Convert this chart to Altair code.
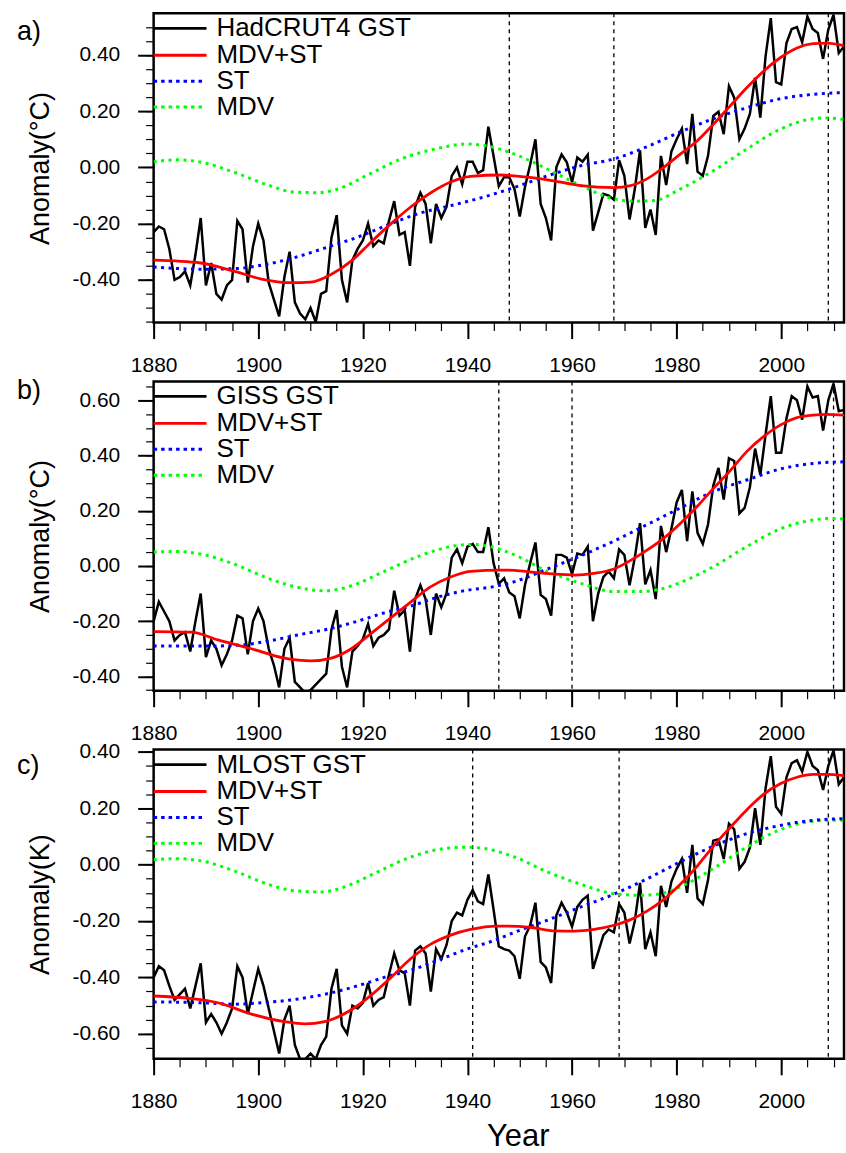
import altair as alt
import pandas as pd
import numpy as np

FONT = "Liberation Sans"

YEARS = list(range(1880, 2013))

HADCRUT4 = [
    -0.23, -0.21, -0.22, -0.29, -0.40, -0.39, -0.37, -0.42, -0.31, -0.18,
    -0.42, -0.34, -0.45, -0.47, -0.42, -0.40, -0.19, -0.22, -0.41, -0.28,
    -0.20, -0.26, -0.41, -0.47, -0.53, -0.39, -0.30, -0.48, -0.52, -0.54,
    -0.50, -0.55, -0.45, -0.44, -0.25, -0.17, -0.40, -0.48, -0.33, -0.29,
    -0.26, -0.20, -0.28, -0.26, -0.27, -0.19, -0.12, -0.24, -0.23, -0.35,
    -0.14, -0.09, -0.13, -0.27, -0.13, -0.18, -0.14, -0.03, 0.00, -0.06,
    0.02, 0.02, -0.02, -0.01, 0.145, 0.04, -0.067, -0.035, -0.035, -0.077,
    -0.175, -0.07, 0.01, 0.10, -0.13, -0.18, -0.26, 0.00, 0.046, 0.018,
    -0.053, 0.035, 0.02, 0.045, -0.225, -0.16, -0.094, -0.10, -0.115, 0.026,
    -0.03, -0.185, -0.077, 0.061, -0.215, -0.15, -0.24, 0.041, -0.063, 0.057,
    0.10, 0.138, 0.012, 0.19, -0.015, -0.03, 0.041, 0.183, 0.198, 0.118,
    0.289, 0.248, 0.10, 0.138, 0.19, 0.319, 0.177, 0.395, 0.531, 0.303,
    0.295, 0.442, 0.492, 0.499, 0.445, 0.537, 0.492, 0.478, 0.386, 0.49,
    0.543, 0.407, 0.43,
]

GISS = [
    -0.20, -0.13, -0.165, -0.20, -0.27, -0.25, -0.24, -0.31, -0.20, -0.10,
    -0.33, -0.27, -0.30, -0.36, -0.32, -0.27, -0.18, -0.19, -0.32, -0.20,
    -0.154, -0.20, -0.30, -0.36, -0.44, -0.30, -0.26, -0.42, -0.44, -0.46,
    -0.45, -0.43, -0.41, -0.39, -0.23, -0.16, -0.365, -0.44, -0.31, -0.29,
    -0.265, -0.21, -0.29, -0.26, -0.25, -0.23, -0.09, -0.18, -0.16, -0.31,
    -0.12, -0.07, -0.12, -0.25, -0.10, -0.15, -0.10, 0.03, 0.06, 0.01,
    0.07, 0.08, 0.05, 0.05, 0.14, 0.01, -0.065, -0.045, -0.096, -0.11,
    -0.19, -0.07, 0.01, 0.085, -0.105, -0.12, -0.18, 0.04, 0.04, 0.03,
    -0.03, 0.045, 0.04, 0.07, -0.20, -0.10, -0.04, -0.02, -0.045, 0.06,
    0.04, -0.07, 0.03, 0.155, -0.067, -0.015, -0.12, 0.145, 0.05, 0.135,
    0.23, 0.275, 0.09, 0.27, 0.12, 0.08, 0.15, 0.29, 0.355, 0.24,
    0.39, 0.38, 0.19, 0.21, 0.285, 0.425, 0.33, 0.475, 0.615, 0.41,
    0.41, 0.535, 0.615, 0.60, 0.53, 0.65, 0.61, 0.615, 0.49, 0.60,
    0.66, 0.56, 0.565,
]

MLOST = [
    -0.40, -0.36, -0.375, -0.43, -0.48, -0.46, -0.44, -0.51, -0.43, -0.35,
    -0.56, -0.53, -0.56, -0.60, -0.56, -0.51, -0.36, -0.40, -0.53, -0.45,
    -0.37, -0.43, -0.51, -0.59, -0.67, -0.55, -0.50, -0.64, -0.69, -0.69,
    -0.67, -0.69, -0.64, -0.61, -0.44, -0.37, -0.57, -0.60, -0.50, -0.51,
    -0.49, -0.42, -0.50, -0.48, -0.47, -0.39, -0.315, -0.375, -0.385, -0.50,
    -0.305, -0.29, -0.315, -0.45, -0.30, -0.335, -0.285, -0.20, -0.17, -0.18,
    -0.125, -0.09, -0.13, -0.14, -0.035, -0.16, -0.29, -0.30, -0.305, -0.325,
    -0.405, -0.255, -0.215, -0.135, -0.345, -0.365, -0.42, -0.18, -0.135, -0.17,
    -0.22, -0.15, -0.125, -0.11, -0.37, -0.31, -0.25, -0.23, -0.24, -0.14,
    -0.17, -0.28, -0.20, -0.065, -0.30, -0.24, -0.325, -0.075, -0.15, -0.06,
    -0.015, 0.02, -0.10, 0.07, -0.12, -0.14, -0.055, 0.085, 0.09, 0.02,
    0.145, 0.125, -0.015, 0.01, 0.06, 0.20, 0.07, 0.27, 0.385, 0.205,
    0.18, 0.31, 0.36, 0.37, 0.33, 0.40, 0.35, 0.335, 0.265, 0.35,
    0.405, 0.285, 0.31,
]

# ---------------- fitted curves ----------------
A_FIT_X = [1880, 1889, 1895.5, 1900.6, 1906.3, 1910, 1914, 1918, 1921.6, 1925.4, 1929.2,
           1933, 1936.8, 1940.6, 1946.4, 1949, 1955.3, 1961.7, 1968, 1971.2, 1974.4,
           1977.5, 1980.7, 1983.9, 1987, 1990.2, 1993.4, 1996.6, 1999.8, 2003, 2006.1,
           2008.7, 2012]
A_FIT_Y = [-0.330, -0.340, -0.370, -0.397, -0.410, -0.408, -0.380, -0.330, -0.265, -0.200,
           -0.140, -0.090, -0.052, -0.032, -0.027, -0.030, -0.044, -0.065, -0.072, -0.065,
           -0.040, 0.000, 0.047, 0.094, 0.153, 0.218, 0.283, 0.342, 0.390, 0.425, 0.440,
           0.442, 0.433]
A_ST_X = [1880, 1889.2, 1895.5, 1900.6, 1906.3, 1912.7, 1919, 1925.4, 1930.5, 1936.8,
          1943.2, 1949, 1955.3, 1961.7, 1968, 1974.4, 1980.7, 1987, 1993.4, 1999.8,
          2006.1, 2012]
A_ST_Y = [-0.354, -0.362, -0.360, -0.348, -0.324, -0.287, -0.248, -0.200, -0.165, -0.136,
          -0.105, -0.071, -0.030, 0.006, 0.030, 0.074, 0.126, 0.173, 0.212, 0.244,
          0.260, 0.266]
A_MDV_X = [1880, 1884.7, 1889.2, 1895.5, 1901.9, 1907, 1911.4, 1915.2, 1920.9, 1927.3,
           1933.7, 1940, 1943.2, 1949, 1955.3, 1961.7, 1968, 1971.9, 1975.7, 1980.7,
           1987, 1993.4, 1999.8, 2006.1, 2008.7, 2012]
A_MDV_Y = [0.020, 0.027, 0.018, -0.018, -0.063, -0.088, -0.090, -0.077, -0.027, 0.030,
           0.065, 0.083, 0.078, 0.047, -0.006, -0.065, -0.112, -0.120, -0.118, -0.077,
           -0.012, 0.065, 0.136, 0.173, 0.176, 0.171]

B_FIT_X = [1880, 1887.2, 1892.3, 1898.7, 1905, 1910.1, 1914, 1917.8, 1921.6, 1925.4,
           1929.2, 1933, 1936.8, 1940.6, 1946.4, 1949, 1952.8, 1956.7, 1960.5, 1964.2,
           1968, 1971.2, 1974.4, 1977.5, 1980.7, 1983.9, 1987, 1990.2, 1993.4, 1996.6,
           1999.8, 2003, 2006.1, 2008.7, 2012]
B_FIT_Y = [-0.238, -0.240, -0.268, -0.300, -0.334, -0.344, -0.334, -0.300, -0.244, -0.187,
           -0.130, -0.075, -0.040, -0.020, -0.015, -0.016, -0.023, -0.030, -0.033, -0.027,
           -0.011, 0.020, 0.058, 0.100, 0.154, 0.215, 0.280, 0.344, 0.414, 0.468,
           0.510, 0.537, 0.546, 0.549, 0.546]
B_ST_X = [1880, 1891, 1897.4, 1902.5, 1907.6, 1914, 1919, 1924.1, 1929.2, 1934.3,
          1939.4, 1945, 1949, 1955.3, 1961.7, 1968, 1974.4, 1980.7, 1987, 1993.4,
          1999.8, 2006.1, 2012]
B_ST_Y = [-0.290, -0.290, -0.285, -0.270, -0.250, -0.226, -0.200, -0.170, -0.145, -0.113,
          -0.090, -0.075, -0.057, -0.011, 0.037, 0.090, 0.150, 0.210, 0.269, 0.311,
          0.351, 0.371, 0.377]
B_MDV_X = [1880, 1884.7, 1889.2, 1895.5, 1901.9, 1907, 1912.7, 1917.8, 1924.1, 1930.5,
           1936.8, 1940.6, 1943.2, 1949, 1955.3, 1961.7, 1968, 1973.1, 1976.9, 1982,
           1987, 1993.4, 1999.8, 2006.1, 2008.7, 2012]
B_MDV_Y = [0.050, 0.052, 0.042, 0.006, -0.045, -0.075, -0.090, -0.072, -0.020, 0.034,
           0.070, 0.078, 0.074, 0.040, -0.020, -0.063, -0.093, -0.093, -0.084, -0.050,
           -0.003, 0.070, 0.134, 0.166, 0.172, 0.170]

C_FIT_X = [1880, 1887.2, 1892.3, 1898.7, 1905, 1908.9, 1912.7, 1917.8, 1921.6, 1925.4,
           1929.2, 1933, 1936.8, 1940.6, 1945.7, 1947.7, 1952.2, 1956.7, 1960.5, 1964.2,
           1968, 1971.2, 1974.4, 1977.5, 1980.7, 1983.9, 1987, 1990.2, 1993.4, 1996.6,
           1999.8, 2003, 2006.1, 2008.7, 2012]
C_FIT_Y = [-0.466, -0.475, -0.490, -0.530, -0.557, -0.565, -0.557, -0.515, -0.463, -0.400,
           -0.333, -0.282, -0.250, -0.230, -0.218, -0.218, -0.223, -0.235, -0.236, -0.230,
           -0.215, -0.195, -0.164, -0.124, -0.070, -0.006, 0.065, 0.131, 0.194, 0.249,
           0.287, 0.310, 0.320, 0.320, 0.316]
C_ST_X = [1880, 1889.2, 1895.5, 1900.6, 1906.3, 1912.7, 1919, 1924.1, 1929.2, 1934.3,
          1939.4, 1945.7, 1949, 1955.3, 1961.7, 1968, 1974.4, 1980.7, 1987, 1993.4,
          1999.8, 2006.1, 2012]
C_ST_Y = [-0.487, -0.490, -0.495, -0.490, -0.480, -0.460, -0.430, -0.400, -0.374, -0.340,
          -0.303, -0.265, -0.240, -0.197, -0.150, -0.105, -0.050, 0.010, 0.065, 0.110,
          0.139, 0.157, 0.163]
C_MDV_X = [1880, 1884.7, 1889.2, 1895.5, 1901.9, 1907, 1912.1, 1916.5, 1922.8, 1929.2,
           1935.6, 1940, 1943.2, 1949, 1955.3, 1961.7, 1968, 1973.1, 1976.9, 1982,
           1987, 1993.4, 1999.8, 2006.1, 2008.7, 2012]
C_MDV_Y = [0.018, 0.021, 0.013, -0.023, -0.070, -0.093, -0.097, -0.079, -0.026, 0.027,
           0.057, 0.062, 0.057, 0.027, -0.026, -0.070, -0.103, -0.109, -0.103, -0.067,
           -0.014, 0.062, 0.124, 0.154, 0.157, 0.157]

# dashed vertical marker years
A_VLINES = [1948, 1968, 2009]
B_VLINES = [1946, 1960, 2010]
C_VLINES = [1941, 1969, 2009]

LEGEND_LABELS = ["MDV+ST", "ST", "MDV"]
X_MAJOR = [1880, 1900, 1920, 1940, 1960, 1980, 2000]
X_MINOR = list(range(1880, 2013, 5))

W, H = 692, 310
LEG_ROWS = [15, 42, 68, 94]


def minus_fix(fmt):
    return "replace(format(datum.value, '%s'), '\u2212', '-')" % fmt


def panel(tag, tag_y, obs_name, obs, fits, vlines, ydom, ymajor, ytitle, show_year):
    xs = alt.Scale(domain=[1880, 2012], nice=False, zero=False)
    ys = alt.Scale(domain=ydom, nice=False, zero=False)
    obs_df = pd.DataFrame({"year": YEARS, "value": obs})

    x_major_kw = dict(
        values=X_MAJOR, format="d", tickSize=16, tickWidth=2, tickColor="black",
        labelFont=FONT, labelFontSize=21, labelColor="black", labelPadding=27,
        labelBaseline="middle", labelFlush=False, labelOverlap=False,
        domain=False, grid=False, orient="bottom",
    )
    if show_year:
        x_major_kw.update(title="Year", titleFont=FONT, titleFontSize=31,
                          titleFontWeight="normal", titleColor="black",
                          titleX=365, titleY=78, titleBaseline="middle",
                          titleAlign="center")
    else:
        x_major_kw.update(title=None)
    x_major = alt.Axis(**x_major_kw)
    x_minor = alt.Axis(values=X_MINOR, tickSize=8, tickWidth=1.2, tickColor="black",
                       labels=False, domain=False, grid=False, orient="bottom", title=None)

    y_major = alt.Axis(
        values=ymajor, labelExpr=minus_fix(".2f"), tickSize=16, tickWidth=2,
        tickColor="black", labelFont=FONT, labelFontSize=21, labelColor="black",
        labelPadding=18, labelFlush=False, labelOverlap=False, domain=False, grid=False,
        orient="left", title=ytitle, titleFont=FONT, titleFontSize=27,
        titleFontWeight="normal", titleColor="black", titleAngle=270,
        titleX=-113, titleY=H / 2, titleBaseline="middle", titleAlign="center",
    )
    yminor_vals = [round(v, 2) for v in np.arange(-0.80, 0.80, 0.05)
                   if ydom[0] - 1e-6 <= round(v, 2) <= ydom[1] + 1e-6]
    y_minor = alt.Axis(values=yminor_vals, tickSize=8, tickWidth=1.2, tickColor="black",
                       labels=False, domain=False, grid=False, orient="left", title=None)

    carrier = alt.Chart(obs_df).mark_line(strokeOpacity=0).encode(
        x=alt.X("year:Q", scale=xs, axis=x_minor),
        y=alt.Y("value:Q", scale=ys, axis=y_minor),
    )
    vl = alt.Chart(pd.DataFrame({"year": vlines})).mark_rule(
        color="black", strokeWidth=1.3, strokeDash=[4, 4]
    ).encode(x=alt.X("year:Q", scale=xs, axis=None))

    obs_line = alt.Chart(obs_df).mark_line(color="black", strokeWidth=2.5, clip=True).encode(
        x=alt.X("year:Q", scale=xs, axis=x_major),
        y=alt.Y("value:Q", scale=ys, axis=y_major),
    )

    layers = [vl, carrier, obs_line]
    (fx, fy), (sx, sy), (mx, my) = fits
    styles = [
        (mx, my, "#00ff00", [3, 4.5], 3),
        (sx, sy, "#0000ff", [3, 4.5], 3),
        (fx, fy, "#ff0000", None, 2.8),
    ]
    for xv, yv, col, dash, sw in styles:
        kw = dict(color=col, strokeWidth=sw, interpolate="monotone", clip=True)
        if dash:
            kw.update(strokeDash=dash, strokeCap="butt")
        layers.append(
            alt.Chart(pd.DataFrame({"year": xv, "value": yv})).mark_line(**kw).encode(
                x=alt.X("year:Q", scale=xs, axis=None),
                y=alt.Y("value:Q", scale=ys, axis=None),
            )
        )

    # legend (top-left inside the plot)
    one = pd.DataFrame({"k": [0]})
    leg = [
        (obs_name + " GST", "black", None, 2.8, 53),
        (LEGEND_LABELS[0], "#ff0000", None, 2.8, 53),
        (LEGEND_LABELS[1], "#0000ff", [3.5, 4], 3, 50),
        (LEGEND_LABELS[2], "#00ff00", [3.5, 4], 3, 50),
    ]
    for (lab, col, dash, sw, ln), ry in zip(leg, LEG_ROWS):
        kw = dict(color=col, strokeWidth=sw)
        if dash:
            kw.update(strokeDash=dash, strokeCap="butt")
        layers.append(alt.Chart(one).mark_rule(**kw).encode(
            x=alt.value(0), x2=alt.value(ln), y=alt.value(ry)))
        layers.append(alt.Chart(one).mark_text(
            text=lab, align="left", baseline="middle", font=FONT, fontSize=26,
            color="black").encode(x=alt.value(63), y=alt.value(ry)))

    layers.append(alt.Chart(one).mark_text(
        text=tag, align="left", baseline="middle", font=FONT, fontSize=27,
        color="black").encode(x=alt.value(-137), y=alt.value(tag_y)))

    return alt.layer(*layers).resolve_scale(x="shared", y="shared").resolve_axis(
        x="independent", y="independent").properties(width=W, height=H)


pa = panel("a)", 19, "HadCRUT4", HADCRUT4,
           ((A_FIT_X, A_FIT_Y), (A_ST_X, A_ST_Y), (A_MDV_X, A_MDV_Y)),
           A_VLINES, [-0.552, 0.548], [-0.4, -0.2, 0.0, 0.2, 0.4],
           "Anomaly(°C)", False)
pb = panel("b)", 10, "GISS", GISS,
           ((B_FIT_X, B_FIT_Y), (B_ST_X, B_ST_Y), (B_MDV_X, B_MDV_Y)),
           B_VLINES, [-0.452, 0.668], [-0.4, -0.2, 0.0, 0.2, 0.4, 0.6],
           "Anomaly(°C)", False)
pc = panel("c)", 16, "MLOST", MLOST,
           ((C_FIT_X, C_FIT_Y), (C_ST_X, C_ST_Y), (C_MDV_X, C_MDV_Y)),
           C_VLINES, [-0.689, 0.408], [-0.6, -0.4, -0.2, 0.0, 0.2, 0.4],
           "Anomaly(K)", True)

chart = alt.vconcat(pa, pb, pc, spacing=59, bounds="flush").properties(
    padding={"left": 15, "top": 10, "right": 0, "bottom": 0},
    background="white",
).configure_view(stroke="black", strokeWidth=2.5)

chart.save("out.html", embed_options={"renderer": "svg", "actions": False})
